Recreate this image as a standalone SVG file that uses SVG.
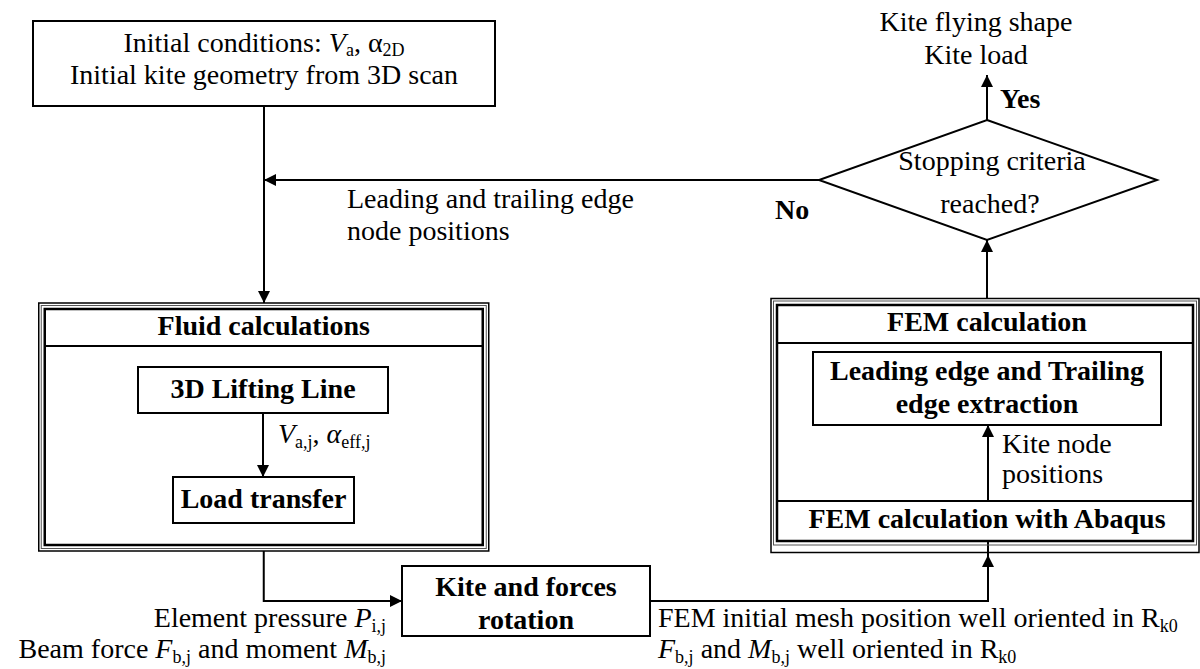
<svg xmlns="http://www.w3.org/2000/svg" width="1200" height="669" viewBox="0 0 1200 669">
<defs>
<marker id="ah" viewBox="0 0 12 12" refX="12" refY="6" markerWidth="12" markerHeight="12" markerUnits="userSpaceOnUse" orient="auto"><path d="M0,0 L12,6 L0,12 z" fill="#000"/></marker>
</defs>
<style>
text{font-family:"Liberation Serif","Times New Roman",serif;font-size:28px;fill:#000}
.b{font-weight:bold}
.c{text-anchor:middle}
.e{text-anchor:end}
.i{font-style:italic}
.box{fill:#fff;stroke:#000;stroke-width:2}
.ln{fill:none;stroke:#000;stroke-width:2}
.o{fill:none;stroke:#000;stroke-width:1.5}
.m{fill:none;stroke:#555;stroke-width:1}
.n{fill:none;stroke:#000;stroke-width:2.5}
.s{font-size:18px}
</style>
<rect width="1200" height="669" fill="#fff"/>
<g id="connectors">
<path class="ln" d="M264,106 V303" marker-end="url(#ah)"/>
<path class="ln" d="M819,180 H264" marker-end="url(#ah)"/>
<path class="ln" d="M987,298.5 V240" marker-end="url(#ah)"/>
<path class="ln" d="M987,120 V75" marker-end="url(#ah)"/>
<path class="ln" d="M263,413 V477" marker-end="url(#ah)"/>
<path class="ln" d="M988,501 V425" marker-end="url(#ah)"/>
<path class="ln" d="M263.75,551 V601 H402" marker-end="url(#ah)"/>
<path class="ln" d="M650,601 H988 V541"/>
<polygon points="988,555 982,567 994,567" fill="#000"/>
</g>
<g id="init">
<rect class="box" x="33" y="21" width="462" height="85"/>
<text class="c" x="264" y="52">Initial conditions: <tspan class="i">V</tspan><tspan class="s" dy="4">a</tspan><tspan dy="-4">, α</tspan><tspan class="s" dy="4">2D</tspan></text>
<text class="c" x="264" y="84">Initial kite geometry from 3D scan</text>
</g>
<g id="fluid">
<rect class="o" x="38.75" y="303" width="450" height="248"/>
<rect class="m" x="41.25" y="305.5" width="445" height="243"/>
<rect class="n" x="44.75" y="309" width="438" height="236"/>
<line class="ln" x1="44.75" y1="346" x2="482.75" y2="346"/>
<text class="b c" x="263.75" y="335">Fluid calculations</text>
</g>
<g id="lifting">
<rect class="box" x="138" y="367" width="250" height="46"/>
<text class="b c" x="263" y="398">3D Lifting Line</text>
</g>
<g id="load">
<rect class="box" x="173" y="477" width="181" height="46"/>
<text class="b c" x="263.5" y="508">Load transfer</text>
</g>
<text x="278" y="443"><tspan class="i">V</tspan><tspan class="s" dy="5">a,j</tspan><tspan dy="-5">, </tspan><tspan class="i">α</tspan><tspan class="s" dy="5">eff,j</tspan></text>
<g id="fem">
<rect class="o" x="771" y="298.5" width="428" height="254"/>
<rect class="m" x="773.5" y="301" width="423" height="244"/>
<rect class="n" x="777" y="305" width="416" height="236"/>
<line class="ln" x1="777" y1="343" x2="1193" y2="343"/>
<line class="ln" x1="777" y1="501" x2="1193" y2="501"/>
<text class="b c" x="987" y="331">FEM calculation</text>
<text class="b c" x="987" y="528">FEM calculation with Abaqus</text>
</g>
<g id="extraction">
<rect class="box" x="813" y="352" width="348" height="73"/>
<text class="b c" x="987" y="380">Leading edge and Trailing</text>
<text class="b c" x="987" y="413">edge extraction</text>
</g>
<text x="1002" y="453">Kite node</text>
<text x="1002" y="483">positions</text>
<g id="decision">
<polygon points="987,120 1157,180 987,240 819,180" fill="#fff" stroke="#000" stroke-width="2"/>
<text class="c" x="992" y="170">Stopping criteria</text>
<text class="c" x="990" y="213">reached?</text>
</g>
<g id="rotation">
<rect class="box" x="402" y="566" width="248" height="70"/>
<text class="b c" x="526" y="596">Kite and forces</text>
<text class="b c" x="526" y="629">rotation</text>
</g>
<g id="result">
<text class="c" x="976" y="31">Kite flying shape</text>
<text class="c" x="976" y="64">Kite load</text>
</g>
<text class="b" x="1000" y="108">Yes</text>
<text class="b" x="775" y="219">No</text>
<text x="347" y="208">Leading and trailing edge</text>
<text x="347" y="240">node positions</text>
<text class="e" x="386" y="627">Element pressure <tspan class="i">P</tspan><tspan class="s" dy="5">i,j</tspan></text>
<text class="e" x="386" y="658">Beam force <tspan class="i">F</tspan><tspan class="s" dy="5">b,j</tspan><tspan dy="-5"> and moment </tspan><tspan class="i">M</tspan><tspan class="s" dy="5">b,j</tspan></text>
<text x="658" y="627">FEM initial mesh position well oriented in R<tspan class="s" dy="5">k0</tspan></text>
<text x="658" y="658"><tspan class="i">F</tspan><tspan class="s" dy="5">b,j</tspan><tspan dy="-5"> and </tspan><tspan class="i">M</tspan><tspan class="s" dy="5">b,j</tspan><tspan dy="-5"> well oriented in R</tspan><tspan class="s" dy="5">k0</tspan></text>
</svg>
